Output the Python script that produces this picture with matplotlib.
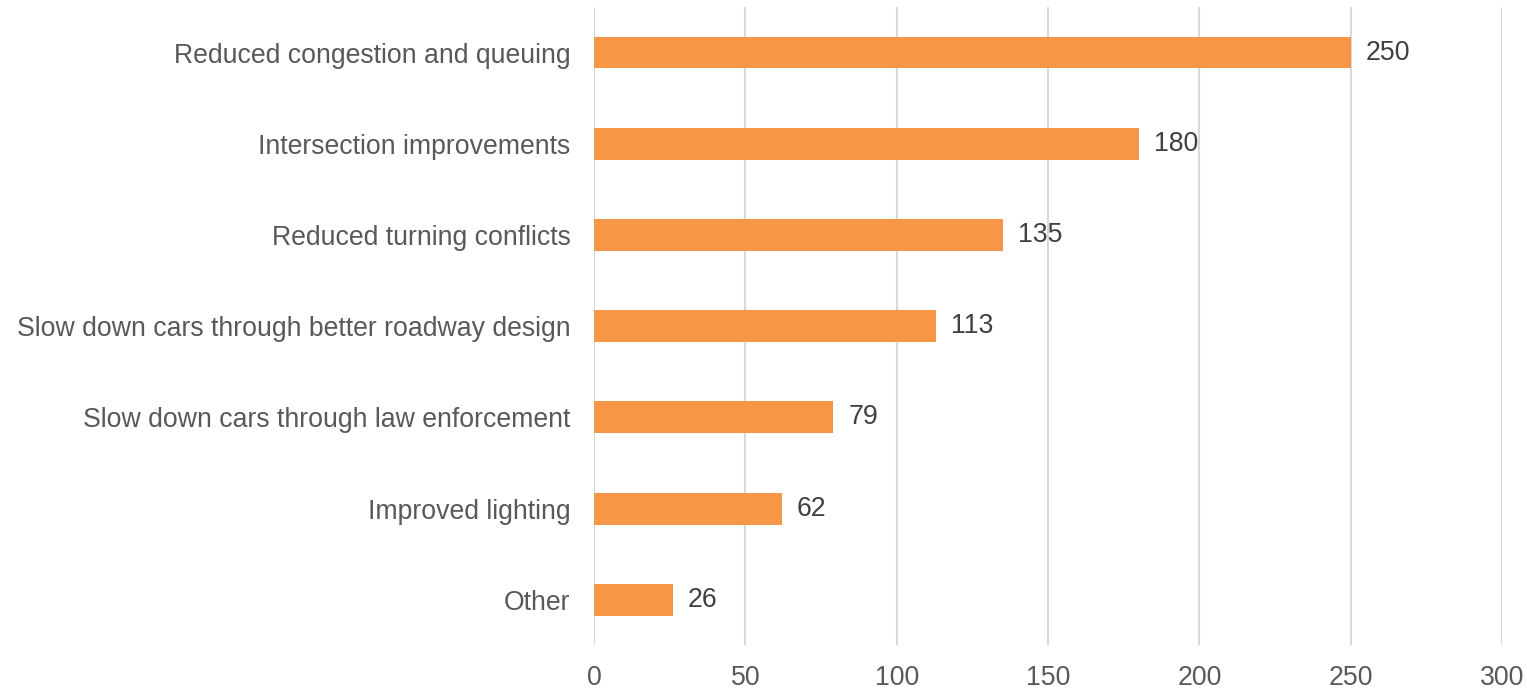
import matplotlib.pyplot as plt

plt.rcParams['font.family'] = ['Liberation Sans', 'DejaVu Sans']

# dados do gráfico (de baixo para cima)
categories = ['Other', 'Improved lighting', 'Slow down cars through law enforcement',
              'Slow down cars through better roadway design', 'Reduced turning conflicts',
              'Intersection improvements', 'Reduced congestion and queuing']
values = [26, 62, 79, 113, 135, 180, 250]
xticks = [0, 50, 100, 150, 200, 250, 300]

fig = plt.figure(figsize=(15.27, 6.91), dpi=100)
ax = fig.add_axes([0.389, 0.066, 0.5947, 0.924])

bars = ax.barh(range(len(categories)), values, height=0.35, color='#F79646', zorder=3)
ax.bar_label(bars, labels=[str(v) for v in values], padding=11, fontsize=19.2, color='#404040')

ax.set_xlim(0, 300)
ax.set_ylim(-0.5, len(categories) - 0.5)
ax.set_xticks(xticks)
ax.set_yticks(range(len(categories)))
ax.set_yticklabels(categories)
ax.xaxis.grid(True, color='#D9D9D9', linewidth=1.5, zorder=0)
ax.tick_params(axis='both', length=0, labelsize=19.2, labelcolor='#595959')
ax.tick_params(axis='y', pad=17)
ax.tick_params(axis='x', pad=14)
for s in ax.spines.values():
    s.set_visible(False)

fig.savefig('out.png', dpi=100)
